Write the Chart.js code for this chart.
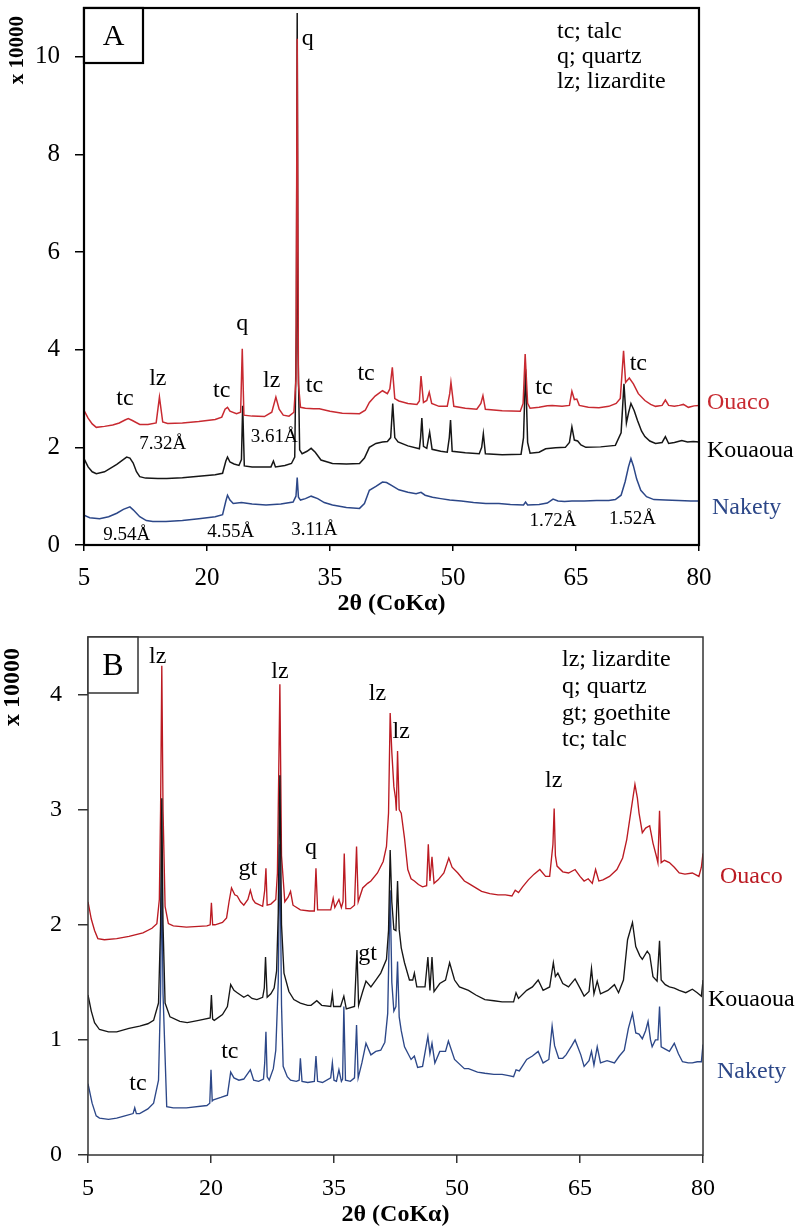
<!DOCTYPE html>
<html>
<head>
<meta charset="utf-8">
<script src="https://cdn.jsdelivr.net/npm/chart.js@4.4.1/dist/chart.umd.min.js"></script>
<style>
  body { margin: 0; background: #fff; }
  #chartA { position: absolute; left: 0; top: 0; }
  #chartB { position: absolute; left: 0; top: 620px; }
</style>
</head>
<body>
<canvas id="chartA" width="810" height="620"></canvas>
<canvas id="chartB" width="810" height="609"></canvas>
<script>
// 축 눈금
const xTicks = [5, 20, 35, 50, 65, 80];
const yTicksA = [0, 2, 4, 6, 8, 10];
const yTicksB = [0, 1, 2, 3, 4];

// ── 패널 A: 2θ / 강도(x10000) ──
const aOuacoX = [5.0,5.5,6.0,6.5,7.5,8.5,9.3,10.0,10.4,10.9,11.8,12.8,13.8,14.2,14.6,15.2,17.0,19.0,21.0,21.8,22.2,22.5,22.8,23.6,24.1,24.3,24.5,25.5,27.0,27.9,28.4,28.8,29.3,30.0,30.6,30.85,31.0,31.15,31.4,32.0,33.0,33.7,35.0,36.5,38.6,39.3,39.8,40.5,41.4,42.0,42.3,42.6,42.9,43.4,44.5,45.6,45.9,46.1,46.4,46.8,47.1,47.4,48.3,49.3,49.6,49.75,50.1,51.5,52.9,53.4,53.65,53.95,56.0,58.2,58.55,58.8,59.1,59.4,60.5,61.5,62.1,63.3,64.2,64.5,64.8,65.1,65.4,66.5,67.8,69.0,69.9,70.4,70.8,71.05,71.5,72.0,72.6,73.4,74.1,74.7,75.5,75.9,76.3,77.0,77.6,78.1,78.7,79.4,80.0];
const aOuacoY = [2.76,2.6,2.48,2.41,2.43,2.46,2.5,2.56,2.59,2.55,2.47,2.47,2.5,3.03,2.52,2.49,2.5,2.53,2.57,2.62,2.78,2.82,2.74,2.69,2.72,4.02,2.66,2.64,2.63,2.72,3.03,2.78,2.66,2.64,2.72,3.4,10.37,3.3,2.82,2.8,2.79,2.79,2.74,2.7,2.69,2.76,2.92,3.05,3.16,3.1,3.2,3.64,3.0,2.95,2.9,2.88,2.95,3.46,2.92,2.96,3.13,2.9,2.84,2.84,3.1,3.33,2.84,2.8,2.78,2.9,3.06,2.78,2.75,2.74,2.9,3.91,2.9,2.8,2.82,2.85,2.86,2.84,2.86,3.15,2.98,2.99,2.86,2.82,2.81,2.84,2.9,3.0,3.98,3.33,3.42,3.3,3.1,2.96,2.88,2.84,2.86,2.97,2.86,2.84,2.86,2.88,2.82,2.85,2.86];

const aKouaouaX = [5.0,5.5,6.0,6.5,7.5,8.2,9.0,9.7,10.2,10.6,11.0,11.4,11.8,12.5,14.0,15.1,17.0,19.0,21.0,21.9,22.3,22.5,22.8,23.3,23.9,24.2,24.35,24.55,25.5,27.0,27.8,28.1,28.35,29.5,30.3,30.7,30.9,31.0,31.1,31.3,31.6,32.2,32.7,33.2,33.9,35.3,37.0,38.6,39.2,39.8,40.6,41.4,42.0,42.4,42.65,42.9,43.3,44.5,45.9,46.05,46.2,46.4,46.8,47.15,47.45,48.5,49.3,49.55,49.7,49.9,51.5,53.2,53.5,53.7,53.95,56.0,58.3,58.6,58.85,59.1,59.4,60.5,61.3,62.5,63.7,64.2,64.5,64.8,65.2,65.6,66.2,68.0,69.8,70.5,70.85,71.15,71.4,71.7,72.1,72.5,73.0,73.4,74.0,74.7,75.5,75.9,76.3,77.0,77.9,78.6,79.3,80.0];
const aKouaouaY = [1.77,1.6,1.5,1.46,1.5,1.57,1.65,1.74,1.8,1.78,1.68,1.5,1.4,1.37,1.36,1.36,1.38,1.41,1.44,1.47,1.72,1.8,1.7,1.66,1.63,1.75,2.85,1.62,1.6,1.6,1.6,1.72,1.6,1.63,1.67,1.8,4.5,10.9,4.0,1.95,1.87,1.92,1.98,1.9,1.74,1.67,1.66,1.67,1.78,2.0,2.08,2.11,2.12,2.2,2.9,2.2,2.11,2.03,1.97,2.2,2.6,2.02,1.98,2.31,1.96,1.92,1.9,2.2,2.56,1.92,1.89,1.87,2.0,2.28,1.87,1.85,1.86,2.2,3.6,2.1,1.88,1.9,1.97,1.99,2.0,2.1,2.42,2.15,2.13,2.05,2.0,2.01,2.04,2.3,3.3,2.5,2.7,2.9,2.75,2.55,2.33,2.22,2.13,2.08,2.1,2.22,2.08,2.1,2.14,2.11,2.12,2.11];

const aNaketyX = [5.0,5.7,6.9,8.0,9.0,9.8,10.6,11.0,11.8,12.6,13.4,15.0,17.0,19.0,21.0,21.9,22.3,22.5,22.8,23.2,24.2,25.5,27.2,29.0,30.5,30.85,31.0,31.15,31.4,32.0,32.7,33.5,34.3,35.3,37.0,38.6,39.2,39.8,40.6,41.4,41.9,42.5,43.4,44.5,45.5,46.1,46.6,47.5,48.5,49.6,51.0,52.5,54.0,55.6,57.0,58.6,58.85,59.1,60.5,61.5,62.2,62.8,63.6,64.5,66.0,67.5,69.0,69.8,70.5,71.0,71.4,71.7,72.0,72.4,72.9,73.6,74.5,75.9,77.5,79.0,80.0];
const aNaketyY = [0.61,0.56,0.54,0.58,0.65,0.73,0.78,0.72,0.58,0.5,0.48,0.48,0.5,0.54,0.58,0.62,0.9,1.02,0.92,0.85,0.87,0.84,0.82,0.84,0.88,1.0,1.38,0.98,0.92,0.95,1.0,0.95,0.87,0.82,0.77,0.75,0.85,1.12,1.2,1.29,1.28,1.22,1.13,1.08,1.05,1.08,1.02,0.98,0.95,0.92,0.9,0.87,0.85,0.85,0.83,0.82,0.88,0.82,0.83,0.86,0.94,0.9,0.89,0.9,0.9,0.91,0.91,0.93,1.02,1.3,1.6,1.77,1.62,1.35,1.12,0.99,0.93,0.92,0.91,0.9,0.9];

// ── 패널 B ──
const bOuacoX = [5.0,5.4,5.8,6.2,7.0,8.5,10.0,11.7,12.8,13.4,13.7,13.85,14.0,14.15,14.4,14.8,15.4,17.0,19.5,19.9,20.05,20.2,20.5,21.4,21.9,22.2,22.5,22.9,23.2,23.6,24.0,24.5,24.8,25.1,25.4,26.3,26.55,26.7,26.85,27.3,27.9,28.1,28.4,28.6,29.0,29.4,29.7,30.0,30.9,32.0,32.6,32.8,33.0,33.9,34.6,34.9,35.1,35.6,35.9,36.1,36.25,36.45,37.0,37.5,37.75,37.95,38.5,39.1,39.5,40.3,41.0,41.4,41.65,41.85,42.05,42.3,42.5,42.6,42.75,42.95,43.2,43.6,44.0,44.4,44.8,45.3,45.8,46.3,46.5,46.7,46.95,47.2,47.7,48.4,49.0,49.4,50.1,50.9,51.4,52.3,53.0,54.0,55.0,55.9,56.7,57.1,57.5,58.0,58.7,59.4,60.1,60.8,61.3,61.7,61.85,62.0,62.2,62.9,63.6,64.4,65.0,65.5,66.0,66.5,66.9,67.3,67.8,68.6,69.5,70.2,70.7,71.2,71.7,72.0,72.2,72.6,73.0,73.5,73.9,74.3,74.5,74.7,74.9,75.3,75.9,76.5,77.1,77.8,78.7,79.5,79.8,80.0];
const bOuacoY = [2.2,2.05,1.95,1.88,1.87,1.88,1.9,1.93,1.97,2.01,2.22,3.0,4.25,3.0,2.16,2.01,1.99,1.98,1.99,2.0,2.19,2.0,2.0,2.02,2.06,2.2,2.32,2.26,2.25,2.2,2.17,2.22,2.3,2.22,2.19,2.16,2.3,2.49,2.17,2.18,2.22,2.45,4.09,2.6,2.2,2.24,2.29,2.17,2.13,2.12,2.12,2.49,2.13,2.13,2.13,2.23,2.15,2.22,2.15,2.2,2.62,2.14,2.14,2.17,2.68,2.2,2.32,2.36,2.38,2.45,2.55,2.68,2.97,3.84,3.5,3.2,3.1,2.99,3.51,3.0,2.97,2.75,2.48,2.4,2.38,2.35,2.33,2.34,2.7,2.38,2.59,2.36,2.39,2.45,2.58,2.5,2.45,2.38,2.36,2.32,2.29,2.27,2.26,2.26,2.25,2.3,2.28,2.33,2.39,2.44,2.48,2.42,2.42,2.7,3.01,2.6,2.51,2.46,2.45,2.48,2.42,2.38,2.4,2.36,2.48,2.38,2.39,2.42,2.48,2.58,2.74,2.98,3.22,3.1,2.97,2.8,2.84,2.86,2.71,2.6,2.54,2.99,2.54,2.56,2.54,2.5,2.45,2.44,2.45,2.42,2.5,2.62];

const bKouaouaX = [5.0,5.4,5.8,6.4,7.5,8.5,10.0,11.3,12.3,13.0,13.6,13.85,14.0,14.15,14.4,15.0,16.2,17.1,18.5,19.9,20.05,20.2,20.4,21.4,22.0,22.4,22.8,23.2,24.0,24.5,25.0,25.6,26.3,26.5,26.65,26.85,27.3,27.7,28.0,28.2,28.4,28.6,28.9,29.5,30.1,30.9,31.8,32.2,32.9,33.5,34.6,34.8,34.95,35.8,36.2,36.5,37.5,37.8,38.0,38.5,38.9,39.5,40.1,40.7,41.4,41.65,41.85,42.05,42.3,42.55,42.75,42.95,43.2,43.6,44.2,44.6,44.8,45.1,46.1,46.45,46.7,46.95,47.2,47.9,48.6,49.1,49.7,50.3,51.4,52.3,53.4,54.5,55.5,56.9,57.2,57.5,58.5,59.2,59.9,60.5,61.3,61.75,62.0,62.3,62.9,63.6,64.4,65.0,65.5,66.1,66.4,66.7,67.1,67.5,68.4,69.2,69.7,70.3,70.8,71.4,71.8,72.3,72.6,73.2,73.5,73.9,74.4,74.7,74.9,75.4,75.9,76.5,77.1,77.9,78.7,79.3,79.8,80.0];
const bKouaouaY = [1.39,1.25,1.15,1.09,1.07,1.07,1.1,1.12,1.14,1.17,1.32,2.0,3.1,2.0,1.32,1.2,1.16,1.15,1.17,1.19,1.39,1.18,1.17,1.22,1.29,1.48,1.43,1.41,1.37,1.39,1.36,1.35,1.37,1.45,1.72,1.37,1.4,1.45,1.6,2.1,3.3,2.0,1.58,1.42,1.35,1.32,1.3,1.3,1.34,1.3,1.29,1.4,1.29,1.29,1.38,1.27,1.29,1.78,1.3,1.42,1.51,1.46,1.52,1.58,1.7,1.95,2.65,2.2,1.96,1.95,2.38,1.96,1.8,1.67,1.52,1.52,1.58,1.46,1.46,1.72,1.43,1.72,1.42,1.49,1.52,1.67,1.52,1.46,1.43,1.39,1.35,1.34,1.33,1.33,1.41,1.36,1.43,1.46,1.52,1.43,1.46,1.67,1.55,1.58,1.49,1.46,1.53,1.45,1.38,1.42,1.62,1.4,1.51,1.4,1.43,1.48,1.41,1.52,1.87,2.02,1.81,1.73,1.7,1.77,1.74,1.55,1.51,1.86,1.52,1.48,1.46,1.45,1.43,1.41,1.44,1.41,1.38,1.52];

const bNaketyX = [5.0,5.5,6.0,6.4,7.5,8.5,9.5,10.5,10.7,10.9,11.3,12.3,13.0,13.6,13.85,14.0,14.15,14.6,15.4,17.0,19.5,19.85,20.0,20.15,20.3,21.2,22.0,22.4,22.8,23.4,24.0,24.6,24.8,25.2,25.8,26.4,26.55,26.7,26.85,27.1,27.6,27.9,28.2,28.4,28.6,28.8,29.3,29.7,30.4,30.75,30.9,31.1,31.8,32.6,32.8,33.0,33.6,34.6,34.8,35.0,35.3,35.6,35.9,36.05,36.2,36.4,37.0,37.5,37.75,37.95,38.4,38.9,39.5,40.1,40.7,41.2,41.55,41.85,42.05,42.3,42.55,42.75,42.95,43.2,43.6,44.4,44.8,45.2,45.8,46.45,46.7,46.95,47.3,47.9,48.6,48.95,49.7,50.9,51.4,52.5,53.4,54.5,55.5,56.3,56.9,57.2,57.6,58.5,59.2,59.9,60.5,61.2,61.6,61.9,62.4,62.9,63.3,64.0,64.4,65.1,65.5,66.1,66.4,66.7,67.1,67.5,68.3,69.2,69.8,70.4,70.9,71.4,71.8,72.2,72.6,73.0,73.3,73.6,73.8,74.2,74.5,74.7,74.9,75.4,75.9,76.5,77.0,77.5,78.2,78.7,79.3,79.8,80.0];
const bNaketyY = [0.62,0.45,0.34,0.32,0.31,0.32,0.34,0.36,0.41,0.36,0.36,0.4,0.45,0.65,1.4,2.5,1.4,0.42,0.41,0.41,0.43,0.45,0.74,0.47,0.48,0.5,0.52,0.72,0.67,0.65,0.66,0.72,0.74,0.65,0.64,0.66,0.8,1.07,0.68,0.65,0.75,0.91,1.5,2.7,1.3,0.77,0.68,0.65,0.64,0.65,0.84,0.64,0.63,0.64,0.86,0.64,0.63,0.67,0.8,0.65,0.64,0.74,0.64,0.66,1.29,0.65,0.64,0.67,1.13,0.67,0.8,0.97,0.87,0.9,0.91,0.98,1.23,2.3,1.5,1.25,1.29,1.68,1.2,1.08,0.94,0.83,0.86,0.76,0.77,1.03,0.88,0.97,0.8,0.9,0.9,0.99,0.83,0.75,0.75,0.72,0.71,0.7,0.7,0.69,0.68,0.74,0.73,0.83,0.86,0.9,0.8,0.83,1.12,0.95,0.84,0.84,0.87,0.95,1.0,0.87,0.77,0.82,0.9,0.78,0.94,0.8,0.82,0.8,0.86,0.91,1.1,1.23,1.06,1.05,1.01,1.08,1.16,1.0,0.94,1.0,1.0,1.29,0.94,0.92,0.9,0.97,0.88,0.81,0.8,0.8,0.81,0.81,0.96];

// 피크 표시 (2θ, 강도 위치)
const peakA = ['tc','lz','tc','q','lz','tc','tc','q','tc','tc'];
const peakAX = [10.0,14.0,21.8,24.3,27.9,33.1,39.4,32.3,61.1,72.6];
const peakAY = [3.0,3.41,3.16,4.53,3.37,3.27,3.51,10.37,3.22,3.71];
const dA = ['7.32Å','3.61Å','9.54Å','4.55Å','3.11Å','1.72Å','1.52Å'];
const dAX = [14.6,28.2,10.2,22.9,33.1,62.2,71.9];
const dAY = [2.06,2.22,0.2,0.27,0.31,0.49,0.53];
const peakB = ['lz','lz','gt','q','lz','lz','lz','gt','tc','tc'];
const peakBX = [13.5,28.4,24.5,32.2,40.3,43.2,61.8,39.1,11.1,22.3];
const peakBY = [4.33,4.20,2.49,2.67,4.01,3.68,3.25,1.75,0.62,0.90];

const legendA = ['tc; talc', 'q; quartz', 'lz; lizardite'];
const legendB = ['lz; lizardite', 'q; quartz', 'gt; goethite', 'tc; talc'];

const samples = ['Ouaco', 'Kouaoua', 'Nakety'];
const labelAY = [2.92, 1.94, 0.76];
const labelBY = [2.42, 1.35, 0.72];

const RED = '#c82a31', BLACK = '#161616', BLUE = '#2c4788';
const SERIF = "'Liberation Serif', 'Times New Roman', serif";

const pts = (xs, ys) => xs.map((v, i) => ({ x: v, y: ys[i] }));

// 프레임, 패널 문자, 피크 라벨, 범례 텍스트
const xrdText = {
  id: 'xrdText',
  afterDraw(chart, args, o) {
    const { ctx, chartArea: ca, scales: { x, y } } = chart;
    ctx.save();
    ctx.strokeStyle = o.frameColor;
    ctx.lineWidth = o.frameWidth;
    ctx.strokeRect(ca.left, ca.top, ca.right - ca.left, ca.bottom - ca.top);
    ctx.fillStyle = '#fff';
    ctx.fillRect(ca.left, ca.top, o.box[0], o.box[1]);
    ctx.strokeRect(ca.left, ca.top, o.box[0], o.box[1]);

    ctx.textAlign = 'center';
    ctx.textBaseline = 'middle';
    ctx.fillStyle = '#000';
    ctx.font = o.letterFont;
    ctx.fillText(o.letter, ca.left + o.box[0] / 2, ca.top + o.box[1] / 2 + 2);

    o.labels.forEach(g => {
      ctx.font = g.font;
      g.text.forEach((t, i) => ctx.fillText(t, x.getPixelForValue(g.xs[i]), y.getPixelForValue(g.ys[i])));
    });

    ctx.textAlign = 'left';
    ctx.font = o.legendFont;
    o.legend.forEach((t, i) => ctx.fillText(t, ca.right - o.legendDx, ca.top + o.legendDy + i * o.legendStep));

    o.names.forEach((t, i) => {
      ctx.fillStyle = o.nameColors[i];
      ctx.fillText(t, ca.right + o.nameDx[i], y.getPixelForValue(o.nameYs[i]));
    });

    // y축 제목
    ctx.fillStyle = '#000';
    ctx.font = o.yTitleFont;
    ctx.translate(o.yTitle[0], o.yTitle[1]);
    ctx.rotate(-Math.PI / 2);
    ctx.textAlign = 'center';
    ctx.fillText('x 10000', 0, 0);
    ctx.restore();
  }
};

function makeChart(id, cfg) {
  return new Chart(document.getElementById(id), {
    type: 'line',
    data: { datasets: cfg.datasets },
    options: {
      responsive: false,
      animation: false,
      events: [],
      layout: { padding: cfg.padding },
      elements: { point: { radius: 0 }, line: { tension: 0 } },
      plugins: { legend: { display: false }, tooltip: { enabled: false }, xrdText: cfg.text },
      scales: {
        x: {
          type: 'linear', min: 5, max: 80,
          afterBuildTicks: s => { s.ticks = xTicks.map(v => ({ value: v })); },
          afterFit: s => { s.height = cfg.xHeight; s.paddingLeft = 0; s.paddingRight = 0; },
          border: { display: false },
          grid: { drawOnChartArea: false, tickLength: cfg.xTickLen, color: cfg.axisColor, lineWidth: 1.5 },
          ticks: { padding: cfg.xPad, color: '#000', font: { size: cfg.tickSize, family: SERIF }, maxRotation: 0 },
          title: { display: true, text: '2θ (CoKα)', color: '#000', padding: { top: 0, bottom: cfg.titlePad },
                   font: { size: 24, weight: 'bold', family: SERIF } }
        },
        y: {
          min: 0, max: cfg.yMax,
          afterBuildTicks: s => { s.ticks = cfg.yTicks.map(v => ({ value: v })); },
          afterFit: s => { s.width = cfg.yWidth; s.paddingTop = 0; s.paddingBottom = 0; },
          border: { display: false },
          grid: { drawOnChartArea: false, tickLength: cfg.yTickLen, color: cfg.axisColor, lineWidth: 1.5 },
          ticks: { padding: cfg.yPad, color: '#000', font: { size: cfg.tickSize, family: SERIF } }
        }
      }
    },
    plugins: [xrdText]
  });
}

const line = (label, xs, ys, color, w) => ({
  label, data: pts(xs, ys), borderColor: color, borderWidth: w, fill: false
});

// 패널 A — Ouaco가 맨 위에 그려짐
makeChart('chartA', {
  datasets: [
    line('Ouaco', aOuacoX, aOuacoY, RED, 1.5),
    line('Kouaoua', aKouaouaX, aKouaouaY, BLACK, 1.5),
    line('Nakety', aNaketyX, aNaketyY, BLUE, 1.5)
  ],
  padding: { left: 0, right: 111, top: 8, bottom: 0 },
  yMax: 11, yTicks: yTicksA, yWidth: 84, xHeight: 75,
  xTickLen: 6, xPad: 12, yTickLen: 9, yPad: 15, tickSize: 25, titlePad: 2,
  axisColor: '#000',
  text: {
    frameColor: '#000', frameWidth: 2.2, box: [59, 55], letter: 'A', letterFont: '30px ' + SERIF,
    labels: [
      { text: peakA, xs: peakAX, ys: peakAY, font: '24px ' + SERIF },
      { text: dA, xs: dAX, ys: dAY, font: '19px ' + SERIF }
    ],
    legend: legendA, legendFont: '24px ' + SERIF, legendDx: 142, legendDy: 24, legendStep: 25,
    names: samples, nameYs: labelAY, nameDx: [8, 8, 13], nameColors: [RED, '#000', BLUE],
    yTitle: [18, 50], yTitleFont: 'bold 21px ' + SERIF
  }
});

// 패널 B — Kouaoua가 맨 위
makeChart('chartB', {
  datasets: [
    line('Kouaoua', bKouaouaX, bKouaouaY, BLACK, 1.35),
    line('Nakety', bNaketyX, bNaketyY, BLUE, 1.35),
    line('Ouaco', bOuacoX, bOuacoY, '#bb1a22', 1.35)
  ],
  padding: { left: 0, right: 107, top: 17, bottom: 0 },
  yMax: 4.5, yTicks: yTicksB, yWidth: 88, xHeight: 74,
  xTickLen: 8, xPad: 11, yTickLen: 10, yPad: 16, tickSize: 24, titlePad: 0,
  axisColor: '#333',
  text: {
    frameColor: '#333', frameWidth: 1.5, box: [50, 56], letter: 'B', letterFont: '32px ' + SERIF,
    labels: [{ text: peakB, xs: peakBX, ys: peakBY, font: '24px ' + SERIF }],
    legend: legendB, legendFont: '24px ' + SERIF, legendDx: 141, legendDy: 23, legendStep: 26.7,
    names: samples, nameYs: labelBY, nameDx: [17, 5, 14], nameColors: ['#bb1a22', '#000', BLUE],
    yTitle: [13, 67], yTitleFont: 'bold 24px ' + SERIF
  }
});
</script>
</body>
</html>
